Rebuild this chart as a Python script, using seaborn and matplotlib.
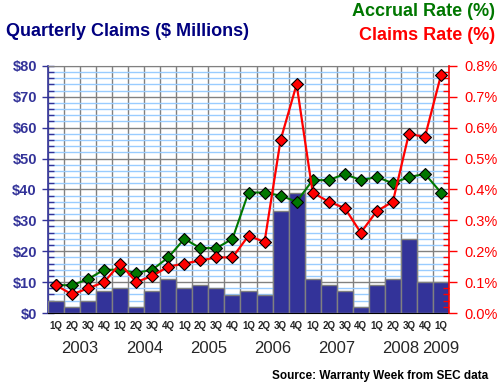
import matplotlib
matplotlib.use('Agg')
import matplotlib.pyplot as plt
import seaborn as sns
import numpy as np
import pandas as pd
from matplotlib.ticker import MultipleLocator, FixedLocator, FuncFormatter
import matplotlib.transforms as mtransforms

# данные
quarters = ['1Q', '2Q', '3Q', '4Q'] * 6 + ['1Q']
years = ['2003', '2004', '2005', '2006', '2007', '2008', '2009']
claims = [3.8, 1.9, 3.8, 7.1, 8.0, 1.9, 7.1, 10.9, 8.0, 9.0, 8.0, 5.7,
          7.1, 5.7, 32.9, 38.7, 10.9, 9.0, 7.1, 1.9, 9.0, 10.9, 23.9, 10.0, 10.0]
accrual_rate = [0.09, 0.09, 0.11, 0.14, 0.14, 0.13, 0.14, 0.18, 0.24, 0.21, 0.21, 0.24,
                0.39, 0.39, 0.38, 0.36, 0.43, 0.43, 0.45, 0.43, 0.44, 0.42, 0.44, 0.45, 0.39]
claims_rate = [0.09, 0.06, 0.08, 0.10, 0.16, 0.10, 0.12, 0.15, 0.16, 0.17, 0.18, 0.18,
               0.25, 0.23, 0.56, 0.74, 0.39, 0.36, 0.34, 0.26, 0.33, 0.36, 0.58, 0.57, 0.77]

sns.set_style('white')
plt.rcParams['font.family'] = ['Liberation Sans', 'DejaVu Sans']

NAVY = '#333399'
GREEN = '#007700'
RED = '#FF0000'
GRID = '#808080'

pos = np.arange(len(claims))
df = pd.DataFrame({'pos': pos, 'claims': claims,
                   'accrual': accrual_rate, 'rate': claims_rate})

fig = plt.figure(figsize=(5.0, 3.85), dpi=100)
ax = fig.add_axes([0.096, 0.187, 0.802, 0.642])

# сетка (под столбцами)
ax.set_xlim(-0.5, len(claims) - 0.5)
ax.set_ylim(0, 80)
ax.yaxis.set_major_locator(MultipleLocator(10))
ax.yaxis.set_minor_locator(MultipleLocator(2))
ax.grid(True, which='minor', axis='y', color='#99CCFF', linewidth=1)
ax.grid(True, which='major', axis='y', color=GRID, linewidth=1)
ax.set_axisbelow(True)

sns.barplot(data=df, x='pos', y='claims', color=NAVY, saturation=1, width=1.0,
            edgecolor=GRID, linewidth=1, ax=ax)
for p in ax.patches:
    p.set_zorder(3)

ax.set_xlim(-0.5, len(claims) - 0.5)
ax.set_ylim(0, 80)
ax.set_xlabel('')
ax.set_ylabel('')
ax.xaxis.set_major_locator(FixedLocator(pos))
ax.xaxis.set_minor_locator(FixedLocator(np.arange(-0.5, len(claims), 1)))
ax.grid(True, which='minor', axis='x', color=GRID, linewidth=1)
ax.grid(False, which='major', axis='x')

ax.set_xticklabels(quarters, fontsize=7, fontweight='bold')
ax.tick_params(axis='x', which='major', length=0, pad=6)
ax.tick_params(axis='x', which='minor', length=4, color='black', width=1)
ax.yaxis.set_major_formatter(FuncFormatter(lambda v, p: f'${v:.0f}'))
ax.tick_params(axis='y', which='major', labelsize=10.5, labelcolor=NAVY, color=NAVY,
               length=8, direction='inout', width=1, pad=4)
ax.tick_params(axis='y', which='minor', color=NAVY, length=4, direction='in', width=1)
for lab in ax.get_yticklabels():
    lab.set_fontweight('bold')

ax.spines['left'].set_color(NAVY)
ax.spines['left'].set_linewidth(1.2)
ax.spines['bottom'].set_color('black')
ax.spines['top'].set_color(GRID)
ax.spines['right'].set_visible(False)

# годы под кварталами
trans = mtransforms.blended_transform_factory(ax.transData, ax.transAxes)
for i, yr in enumerate(years):
    idx = [j for j in range(len(claims)) if j // 4 == i]
    ax.text(np.mean(idx), -0.145, yr, transform=trans, ha='center', va='center',
            fontsize=12)

# правая ось
ax2 = ax.twinx()
ax2.grid(False)
sns.lineplot(data=df, x='pos', y='accrual', ax=ax2, color=GREEN, linewidth=1.5,
             marker='D', markersize=6, markeredgecolor='black', markeredgewidth=0.8,
             zorder=5)
sns.lineplot(data=df, x='pos', y='rate', ax=ax2, color=RED, linewidth=1.6,
             marker='D', markersize=6, markeredgecolor='black', markeredgewidth=0.8,
             zorder=6)
ax2.set_xlim(-0.5, len(claims) - 0.5)
ax2.set_ylim(0, 0.8)
ax2.set_ylabel('')
ax2.set_xlabel('')
ax2.yaxis.set_major_locator(MultipleLocator(0.1))
ax2.yaxis.set_minor_locator(MultipleLocator(0.02))
ax2.yaxis.set_major_formatter(FuncFormatter(lambda v, p: f'{v:.1f}%'))
ax2.tick_params(axis='y', which='major', labelsize=10.5, labelcolor=RED, color=RED,
                length=6, width=1, pad=5)
ax2.tick_params(axis='y', which='minor', color=RED, length=4, direction='in', width=1)
ax2.spines['right'].set_color(RED)
ax2.spines['right'].set_linewidth(1.2)
for s in ['left', 'top', 'bottom']:
    ax2.spines[s].set_visible(False)

# подписи
fig.text(0.012, 0.919, 'Quarterly Claims ($ Millions)', color='#000080',
         fontsize=13, fontweight='bold', ha='left', va='center')
fig.text(0.99, 0.969, 'Accrual Rate (%)', color=GREEN,
         fontsize=13, fontweight='bold', ha='right', va='center')
fig.text(0.99, 0.909, 'Claims Rate (%)', color=RED,
         fontsize=13, fontweight='bold', ha='right', va='center')
fig.text(0.976, 0.023, 'Source: Warranty Week from SEC data', color='black',
         fontsize=8.5, fontweight='bold', ha='right', va='center')

fig.savefig('out.png', dpi=100)
